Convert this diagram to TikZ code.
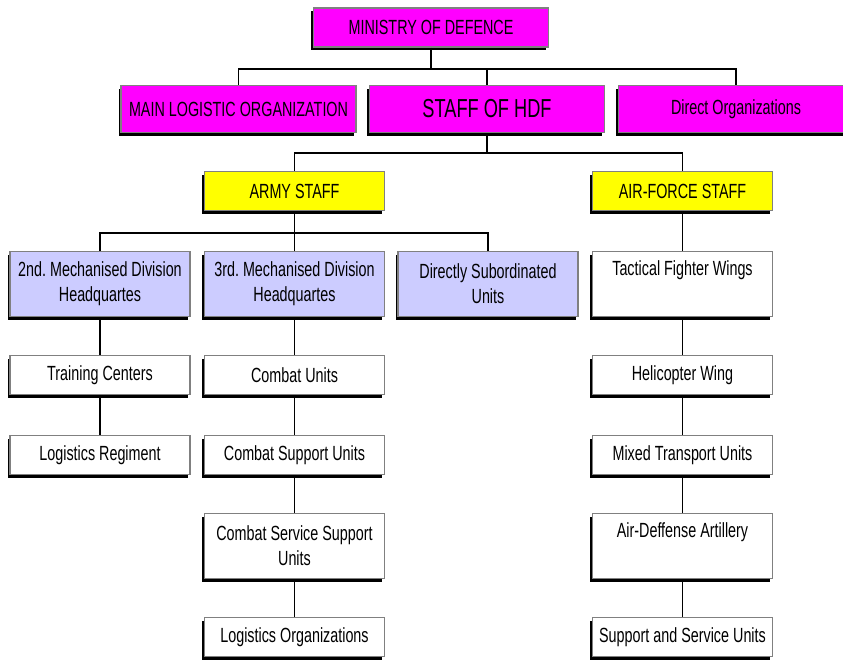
\documentclass[tikz,border=0pt]{standalone}
\usepackage{fontspec}
\setmainfont{Liberation Sans}[FakeStretch=0.70]
\usepackage{tikz}
\usetikzlibrary{shadows}
\usepackage{xcolor}
\frenchspacing

\definecolor{hdfpink}{RGB}{255,0,255}
\definecolor{hdfyellow}{RGB}{255,255,0}
\definecolor{hdfblue}{RGB}{204,204,255}

\begin{document}
\begin{tikzpicture}[x=1pt,y=-1pt,link/.style={draw=black,line width=1.8pt},
    hv/.style={to path={-| (\tikztotarget)}}]
  \tikzstyle{unit}=[draw=gray,line width=1.6pt,fill=white,inner sep=0pt,align=center,
    minimum width=180pt,minimum height=39pt,font=\fontsize{20.5}{25}\selectfont,
    general shadow={fill=black,shadow xshift=-2.5pt,shadow yshift=-3pt}]
  \tikzstyle{tall}=[unit,minimum height=65pt]
  \tikzstyle{ministry}=[unit,fill=hdfpink,minimum width=235pt]
  \tikzstyle{staff}=[unit,fill=hdfyellow]
  \tikzstyle{division}=[tall,fill=hdfblue]

  \clip (0,0) rectangle (843,662);

  % top levels
  \node[ministry] (MOD) at (431,27.5) {MINISTRY OF DEFENCE};
  \node[ministry,minimum height=47pt] (MLO) at (238.5,109) {MAIN LOGISTIC ORGANIZATION};
  \node[ministry,minimum height=47pt,font=\fontsize{26}{30}\selectfont] (HDF) at (487,109) {STAFF OF HDF};
  \node[ministry,minimum height=47pt] (DIR) at (736,109) {Direct Organizations};
  \node[staff] (ARMY) at (294.5,191) {ARMY STAFF};
  \node[staff] (AIR)  at (682.5,191) {AIR-FORCE STAFF};

  % army
  \node[division] (DIV2) at (100,284)   {2nd. Mechanised Division\\Headquartes};
  \node[division] (DIV3) at (294.5,284) {3rd. Mechanised Division\\Headquartes};
  \node[division] (DSU)  at (488,284)   {Directly Subordinated\\Units};
  \node[unit] (TC)  at (100,375)   {Training Centers};
  \node[unit] (LR)  at (100,455)   {Logistics Regiment};
  \node[unit] (CU)  at (294.5,375) {Combat Units};
  \node[unit] (CSU) at (294.5,455) {Combat Support Units};
  \node[tall] (CSS) at (294.5,546) {Combat Service Support\\Units};
  \node[unit] (LO)  at (294.5,637) {Logistics Organizations};

  % air force
  \node[tall] (TFW) at (682.5,284) {Tactical Fighter Wings\\\strut};
  \node[unit] (HW)  at (682.5,375) {Helicopter Wing};
  \node[unit] (MTU) at (682.5,455) {Mixed Transport Units};
  \node[tall] (ADA) at (682.5,546) {Air-Deffense Artillery\\\strut};
  \node[unit] (SSU) at (682.5,637) {Support and Service Units};

  % buses
  \path (MOD.south) -- ++(0,21) coordinate (b1);
  \path (HDF.south) -- ++(0,20) coordinate (b2);
  \path (ARMY.south) -- ++(0,22) coordinate (b3);

  \path[link] (MOD.south) edge (b1)
        (b1) edge[hv] (MLO.north) edge[hv] (HDF.north) edge[hv] (DIR.north)
        (HDF.south) edge (b2)
        (b2) edge[hv] (ARMY.north) edge[hv] (AIR.north)
        (ARMY.south) edge (b3)
        (b3) edge[hv] (DIV2.north) edge[hv] (DIV3.north) edge[hv] (DSU.north)
        (DIV2) edge (TC) (TC) edge (LR)
        (DIV3) edge (CU) (CU) edge (CSU) (CSU) edge (CSS) (CSS) edge (LO)
        (AIR) edge (TFW) (TFW) edge (HW) (HW) edge (MTU) (MTU) edge (ADA) (ADA) edge (SSU);
\end{tikzpicture}
\end{document}
